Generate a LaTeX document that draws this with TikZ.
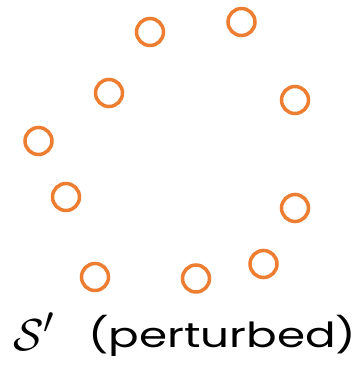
\documentclass[tikz,border=0pt]{standalone}
\usepackage{graphicx}
\usepackage{fontspec}
\setmainfont{Poppins}
\usetikzlibrary{positioning}
\definecolor{ptorange}{HTML}{ED7D31}

\begin{document}
\begin{tikzpicture}[x=1pt,y=-1pt,pt/.style={circle,draw=ptorange,line width=3.5pt,minimum size=27pt,inner sep=0pt}]
  \useasboundingbox (0,0) rectangle (362,367);
  \node[pt] (p1) at (150,32) {};
  \node[pt] (p2) at (241.5,22) {};
  \node[pt] (p3) at (109,93) {};
  \node[pt] (p4) at (295,100) {};
  \node[pt] (p5) at (38.5,141) {};
  \node[pt] (p6) at (66,197) {};
  \node[pt] (p7) at (295,208) {};
  \node[pt] (p8) at (95,277) {};
  \node[pt] (p9) at (196,278.5) {};
  \node[pt] (p10) at (263.5,264) {};
  \node[anchor=base west,inner sep=0pt,font=\Huge] (set) at (13,350) {\scalebox{1.8}{$\mathcal{S}'$}};
  \node[anchor=base west,inner sep=0pt,font=\Huge] (lbl) at (88,347) {\scalebox{1.82}[1.39]{(perturbed)}};
\end{tikzpicture}
\end{document}
